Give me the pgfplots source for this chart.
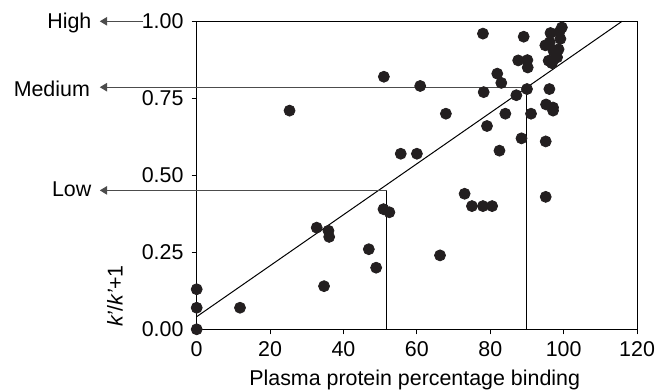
\documentclass[border=0pt]{standalone}
\usepackage{pgfplots}
\pgfplotsset{compat=1.18}
\usepackage{fontspec}
\setmainfont{Liberation Sans}
\usetikzlibrary{arrows.meta}
\definecolor{dot}{RGB}{35,31,32}
\begin{document}
\begin{tikzpicture}[font=\fontsize{10.7}{12.8}\selectfont]
\useasboundingbox (-98.35pt,-30.35pt) rectangle (229.15pt,164.65pt);
\begin{axis}[
  at={(0,0)}, anchor=south west,
  width=220.2pt, height=154pt, scale only axis,
  xmin=0, xmax=120, ymin=0, ymax=1,
  xtick={0,20,...,120}, ytick={0,0.25,0.5,0.75,1},
  tick label style={font=\fontsize{10.7}{12.8}\selectfont},
  yticklabel style={xshift=-0.6pt, /pgf/number format/.cd, fixed, fixed zerofill, precision=2},
  /pgf/number format/assume math mode=true,
  tick align=outside, xtick pos=left, ytick pos=left,
  major tick length=2.5pt,
  axis line style={line width=0.5pt},
  tick style={black, line width=0.5pt},
  clip=false,
]
% regression line
\addplot[black, line width=0.5pt] coordinates {(0,0.041) (115.9,1.0)};
% data points
\addplot[only marks, mark=*, mark size=2.75pt, color=dot, mark options={fill=dot, draw=dot}] coordinates {
(0,0.00) (0,0.07) (0,0.13) (11.8,0.07) (25.3,0.71) (32.7,0.33) (35.9,0.32) (36.1,0.30)
(34.7,0.14) (46.9,0.26) (48.9,0.20) (50.9,0.39) (52.5,0.38) (51.0,0.82) (55.6,0.57)
(60.0,0.57) (60.9,0.79) (66.3,0.24) (67.9,0.70) (73.0,0.44) (75.0,0.40) (78.0,0.40)
(80.5,0.40) (78.0,0.96) (78.2,0.77) (79.1,0.66) (81.9,0.83) (83.0,0.80) (82.5,0.58)
(84.1,0.70) (87.1,0.76) (87.6,0.873) (88.5,0.62) (89.1,0.95) (90.1,0.874) (90.2,0.85)
(90.0,0.78) (91.1,0.70) (95.1,0.43) (95.1,0.61) (95.2,0.73) (96.1,0.78) (97.1,0.72)
(97.1,0.71)
(99.5,0.98) (98.8,0.965) (96.4,0.962) (99.1,0.943) (96.2,0.932) (95.0,0.922)
(98.6,0.909) (97.2,0.905) (95.9,0.872) (98.2,0.883) (96.8,0.864) (97.5,0.88)
};
% reference lines
\draw[black, line width=0.5pt] (axis cs:90,0) -- (axis cs:90,0.786);
\draw[black, line width=0.5pt] (axis cs:51.8,0) -- (axis cs:51.8,0.451);
\draw[black!70, line width=0.5pt, -{Triangle[length=3.6pt,width=4.2pt]}] (axis cs:90,0.786) -- (axis cs:-26.4,0.786);
\draw[black!70, line width=0.5pt, -{Triangle[length=3.6pt,width=4.2pt]}] (axis cs:51.8,0.451) -- (axis cs:-26.4,0.451);
\draw[black!70, line width=0.5pt, -{Triangle[length=3.6pt,width=4.2pt]}] (axis cs:-14.6,1) -- (axis cs:-26.4,1);
\node[anchor=east, inner sep=0pt] at (axis cs:-28.6,0.995) {High};
\node[anchor=east, inner sep=0pt] at (axis cs:-29.0,0.78) {Medium};
\node[anchor=east, inner sep=0pt] at (axis cs:-28.6,0.456) {Low};
\node[rotate=90] at (axis cs:-22.3,0.108) {\textit{k’}/\textit{k’}+1};
\node at (axis cs:59.4,-0.165) {Plasma protein percentage binding};
\end{axis}
\end{tikzpicture}
\end{document}
